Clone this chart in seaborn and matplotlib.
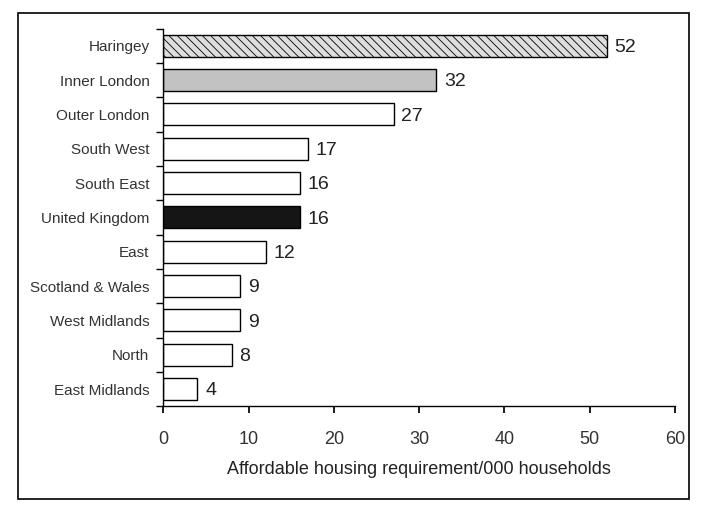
import matplotlib
matplotlib.use("Agg")
import matplotlib.pyplot as plt
from matplotlib.patches import Rectangle
import seaborn as sns
import pandas as pd
import numpy as np

categories = ["Haringey", "Inner London", "Outer London", "South West", "South East",
              "United Kingdom", "East", "Scotland & Wales", "West Midlands", "North",
              "East Midlands"]
values = [52, 32, 27, 17, 16, 16, 12, 9, 9, 8, 4]
fills = ["#dedede", "#c2c2c2", "white", "white", "white", "#151515", "white",
         "white", "white", "white", "white"]
xticks = [0, 10, 20, 30, 40, 50, 60]
xlabel = "Affordable housing requirement/000 households"

sns.set_theme(style="white")
plt.rcParams["font.family"] = ["Liberation Sans", "DejaVu Sans"]
plt.rcParams["hatch.color"] = "#9a9a9a"
plt.rcParams["hatch.linewidth"] = 0.6

df = pd.DataFrame({"area": categories, "value": values})

fig = plt.figure(figsize=(7.01, 5.09), dpi=100)
ax = fig.add_axes([0.233, 0.202, 0.73, 0.742])
sns.barplot(data=df, x="value", y="area", hue="area", palette=fills, legend=False,
            edgecolor="black", linewidth=1.0, width=0.64, ax=ax)
for p in ax.patches:
    p.set_edgecolor("black")
ax.patches[0].set_hatch("\\\\\\\\")

for i, v in enumerate(values):
    ax.text(v + 0.9, i + 0.05, f"{v}", va="center", ha="left", fontsize=14, color="#222222")

ax.set_xlim(0, 60)
ax.set_ylim(len(categories) - 0.5, -0.5)
ax.set_xticks(xticks)
ax.set_xticklabels([str(t) for t in xticks], fontsize=13, color="#333333")
ax.set_yticks(range(len(categories)))
ax.set_yticklabels(categories, fontsize=11, color="#333333")
ax.set_yticks(np.arange(-0.5, len(categories), 1), minor=True)
ax.tick_params(axis="y", which="major", length=0, pad=10)
ax.tick_params(axis="y", which="minor", length=5, left=True, direction="out", color="black")
ax.tick_params(axis="x", which="major", length=5, bottom=True, direction="out", color="black", pad=13)
ax.set_xlabel(xlabel, fontsize=13, color="#222222", labelpad=9)
ax.set_ylabel("")
for s in ["top", "right"]:
    ax.spines[s].set_visible(False)
for s in ["left", "bottom"]:
    ax.spines[s].set_color("black")
    ax.spines[s].set_linewidth(1.0)

fig.patches.append(Rectangle((0.025, 0.02), 0.958, 0.955, transform=fig.transFigure,
                             fill=False, edgecolor="black", linewidth=1.2))

fig.savefig("out.png", dpi=100)
